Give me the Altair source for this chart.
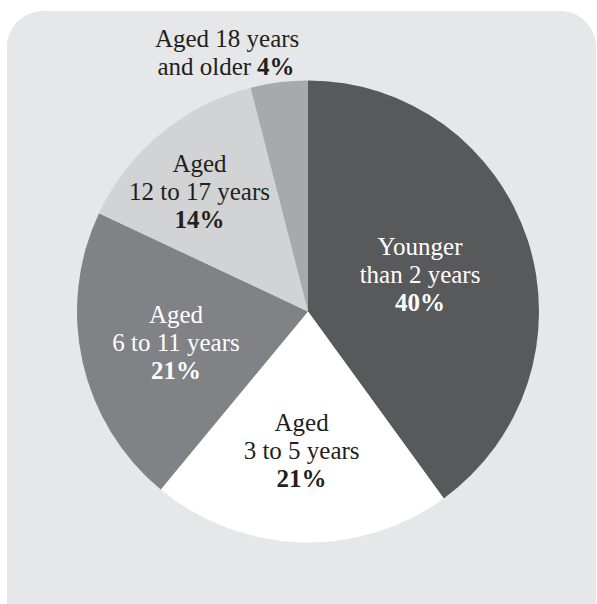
import altair as alt
import pandas as pd

# ---- data ----
categories = ["Younger than 2 years", "Aged 3 to 5 years", "Aged 6 to 11 years",
              "Aged 12 to 17 years", "Aged 18 years and older"]
shares = [40, 21, 21, 14, 4]
line1 = ["Younger", "Aged", "Aged", "Aged", ""]
line2 = ["than 2 years", "3 to 5 years", "6 to 11 years", "12 to 17 years", ""]
pct = ["40%", "21%", "21%", "14%", ""]
outer1 = ["", "", "", "", "Aged 18 years"]
outer2 = ["", "", "", "", "and older"]
outer3 = ["", "", "", "", "4%"]

# ---- styles ----
slice_colors = ["#58595b", "#ffffff", "#808285", "#d1d3d4", "#a7a9ac"]
text_colors = ["#ffffff", "#231f20", "#ffffff", "#231f20", "#231f20"]
label_radius = [115.6, 147.6, 137.8, 155.6, 263.3]   # pixels from the pie centre
label_nudge = [1.03, 0.19, -1.13, -1.28, -2.97]      # angular nudge, in share units
FONT = "Liberation Serif"
FS = 25
LH = 28

df = pd.DataFrame({
    "category": categories, "share": shares, "idx": list(range(len(categories))),
    "line1": line1, "line2": line2, "pct": pct,
    "outer1": outer1, "outer2": outer2, "outer3": outer3,
    "tc": text_colors, "r": label_radius, "nudge": label_nudge,
})

base = alt.Chart(df)
theta_scale = alt.Scale(domain=[0, 100])

bg = alt.Chart(pd.DataFrame({"a": [0]})).mark_rect(
    color="#e6e7e8", cornerRadius=36
).encode(x=alt.value(-12), x2=alt.value(577), y=alt.value(-7), y2=alt.value(680))

arcs = base.mark_arc(outerRadius=231, strokeWidth=0).encode(
    theta=alt.Theta("share:Q", stack=True, scale=theta_scale),
    order=alt.Order("idx:Q"),
    color=alt.Color("category:N", scale=alt.Scale(domain=categories, range=slice_colors), legend=None),
)

label_base = base.transform_window(
    cum="sum(share)", sort=[alt.SortField("idx")], frame=[None, 0]
).transform_calculate(mid="datum.cum - datum.share / 2 + datum.nudge")


def text_layer(field, dx=0, dy=0, bold=False, align="center"):
    return label_base.mark_text(
        font=FONT, fontSize=FS, fontWeight="bold" if bold else "normal",
        dx=dx, dy=dy, align=align, baseline="alphabetic",
    ).encode(
        theta=alt.Theta("mid:Q", stack=None, scale=theta_scale),
        radius=alt.Radius("r:Q", scale=None),
        text=alt.Text(f"{field}:N"),
        fill=alt.Fill("tc:N", scale=None),
    )


layers = [
    bg, arcs,
    text_layer("line1", dy=-LH),
    text_layer("line2"),
    text_layer("pct", dy=LH, bold=True),
    text_layer("outer1", dy=-14),
    text_layer("outer2", dx=24, dy=14, align="right"),
    text_layer("outer3", dx=30, dy=14, bold=True, align="left"),
]

chart = alt.layer(*layers).properties(
    width=578, height=587,
    padding={"left": 19, "top": 18, "right": 0, "bottom": 0},
    autosize=alt.AutoSizeParams(type="none"),
    background="#ffffff",
).configure_view(stroke=None)

chart.save("out.html", embed_options={"renderer": "svg", "actions": False})
